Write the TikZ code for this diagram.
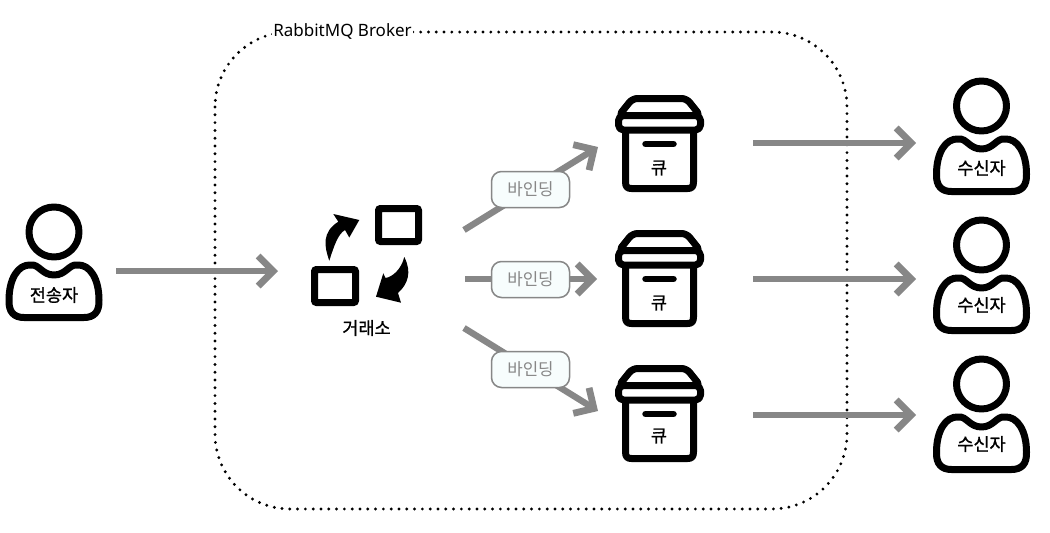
\documentclass[tikz,border=0pt]{standalone}
\usepackage{fontspec}
\setmainfont{Noto Sans}
\newfontfamily\krfont{Noto Sans CJK KR}
\usetikzlibrary{arrows.meta}
\definecolor{flowgrey}{HTML}{878787}
\definecolor{bindfill}{HTML}{F7FDFD}
\tikzset{
  x=1pt,y=-1pt,
  flow/.style={draw=flowgrey,line width=6.4pt,-{Straight Barb[length=15pt,width=30pt,line width=6.8pt]}},
  icon/.style={draw=black,line width=7pt,line join=round,fill=white},
  bindlabel/.style={draw=flowgrey,line width=1.5pt,fill=bindfill,rounded corners=10pt,minimum width=78pt,minimum height=36pt,inner sep=0pt,text=flowgrey,font=\krfont\fontsize{16.8}{17}\selectfont},
  iconlabel/.style={inner sep=0pt,text=black,font=\krfont\fontsize{17.5}{18}\selectfont\addfontfeatures{FakeBold=1}},
  brokerlabel/.style={fill=white,inner sep=0pt,inner xsep=1pt,font=\fontsize{17}{18}\selectfont},
  pics/person/.style={code={
    \draw[icon] (0,0) circle (25);
    \draw[icon] (-23,33) .. controls (-15,32) and (-12,43) .. (0,43)
      .. controls (12,43) and (15,32) .. (23,33)
      .. controls (36,32) and (45,47) .. (45,68)
      .. controls (45.5,80) and (40,85.5) .. (30,85.5)
      -- (-30,85.5)
      .. controls (-40,85.5) and (-45.5,80) .. (-45,68)
      .. controls (-45,47) and (-36,32) .. (-23,33) -- cycle;
  }},
  pics/crate/.style={code={
    \draw[icon] (-34,33) -- (-34,87) .. controls (-34,92) and (-32,93.5) .. (-28,93.5) -- (28,93.5)
      .. controls (32,93.5) and (34,92) .. (34,87) -- (34,33);
    \draw[icon,rounded corners=5pt] (-27,3.5) -- (27,3.5) -- (41,21) -- (-41,21) -- cycle;
    \draw[icon,rounded corners=5pt] (-41,20.5) -- (41,20.5) -- (41,35) -- (-41,35) -- cycle;
    \draw[draw=black,line width=6.5pt,line cap=round] (-14,49) -- (14,49);
  }},
  pics/swap/.style={code={
    \draw[draw=black,line width=7pt,rounded corners=2pt] (378.5,208.5) rectangle (418.5,241.5);
    \draw[draw=black,line width=7pt,rounded corners=2pt] (314.5,269.5) rectangle (355.5,302.5);
    \fill[black] (329.3,260.7) .. controls (324,246) and (322,232) .. (338.3,221.7)
      -- (333.3,214) -- (359.3,220) -- (349.3,237.5) -- (345,230)
      .. controls (338,234) and (334,246) .. (329.3,260.7) -- cycle;
    \fill[black] (404.3,257) .. controls (412,272) and (408,284) .. (398,293)
      -- (401,302.7) -- (376,296.7) -- (383.3,273.3) -- (385.5,278)
      .. controls (392,277) and (401,270) .. (404.3,257) -- cycle;
  }}
}
\begin{document}
\begin{tikzpicture}
\useasboundingbox (0,0) rectangle (1050,533);
\fill[white] (0,0) rectangle (1050,533);

% broker frame
\draw[black,line width=3.2pt,line cap=round,dash pattern=on 0pt off 7.8pt,rounded corners=75pt] (215,32) rectangle (847,509);
\node[brokerlabel] (broker) at (342.5,31.5) {RabbitMQ Broker};

% connector ends
\coordinate (senderout) at (116,271);
\coordinate (exchangein) at (278,271);
\coordinate (exchout1) at (464,230);
\coordinate (exchout2) at (465,279);
\coordinate (exchout3) at (464,328);
\coordinate (queuein1) at (598,147);
\coordinate (queuein2) at (597,279);
\coordinate (queuein3) at (598,411);
\coordinate (queueout1) at (753,143);
\coordinate (queueout2) at (753,279);
\coordinate (queueout3) at (753,415);
\coordinate (recvin1) at (916,143);
\coordinate (recvin2) at (916,279);
\coordinate (recvin3) at (916,415);

% connectors
\draw[flow] (senderout) -- (exchangein);
\draw[flow] (exchout1) -- (queuein1);
\draw[flow] (exchout2) -- (queuein2);
\draw[flow] (exchout3) -- (queuein3);
\draw[flow] (queueout1) -- (recvin1);
\draw[flow] (queueout2) -- (recvin2);
\draw[flow] (queueout3) -- (recvin3);

% binding labels
\node[bindlabel] (bind1) at (530.5,189.5) {바인딩};
\node[bindlabel] (bind2) at (530.5,279.5) {바인딩};
\node[bindlabel] (bind3) at (530.5,369.5) {바인딩};

% sender
\pic at (54,232) {person};
\node[iconlabel] (sender) at (54,295) {전송자};

% exchange
\pic at (0,0) {swap};
\node[iconlabel] (exchange) at (366.5,328) {거래소};

% queues
\pic at (659.5,95) {crate};
\node[iconlabel] (queue1) at (659,168) {큐};
\pic at (659.5,230) {crate};
\node[iconlabel] (queue2) at (659,303) {큐};
\pic at (659.5,365) {crate};
\node[iconlabel] (queue3) at (659,436) {큐};

% receivers
\pic at (981.5,106) {person};
\node[iconlabel] (recv1) at (981.5,168) {수신자};
\pic at (981.5,245) {person};
\node[iconlabel] (recv2) at (981.5,305) {수신자};
\pic at (981.5,384) {person};
\node[iconlabel] (recv3) at (981.5,444) {수신자};
\end{tikzpicture}
\end{document}
